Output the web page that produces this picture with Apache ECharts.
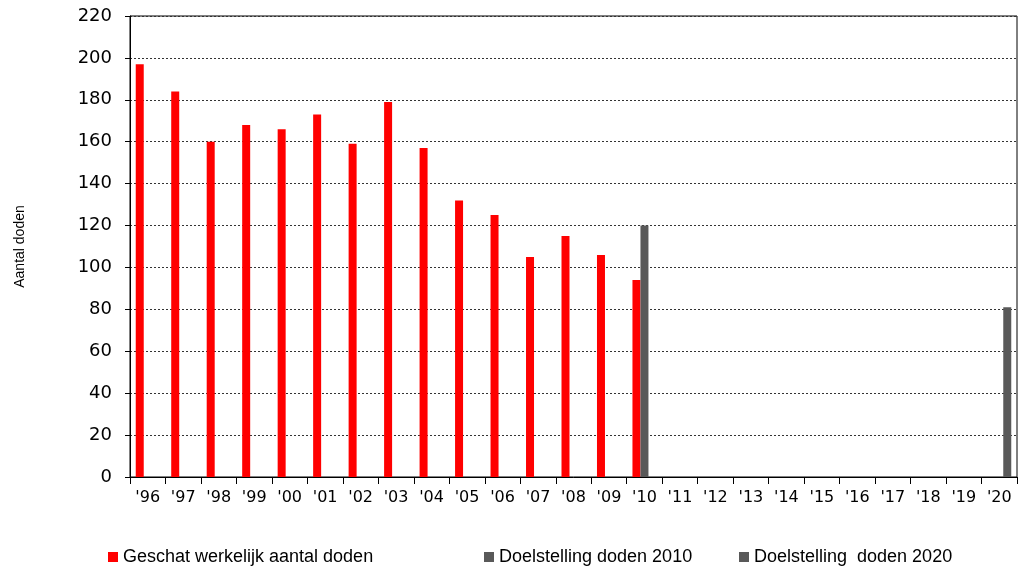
<!DOCTYPE html>
<html>
<head>
<meta charset="utf-8">
<script src="https://cdn.jsdelivr.net/npm/echarts@6/dist/echarts.min.js"></script>
<style>html,body{margin:0;padding:0;background:#fff}#c{width:1026px;height:569px}</style>
</head>
<body>
<div id="c"></div>
<script>
const categories = ["'96","'97","'98","'99","'00","'01","'02","'03","'04","'05","'06","'07","'08","'09","'10","'11","'12","'13","'14","'15","'16","'17","'18","'19","'20"];
const actual = [197,184,160,168,166,173,159,179,157,132,125,105,115,106,94,null,null,null,null,null,null,null,null,null,null];
const target2010 = [null,null,null,null,null,null,null,null,null,null,null,null,null,null,120,null,null,null,null,null,null,null,null,null,null];
const target2020 = [null,null,null,null,null,null,null,null,null,null,null,null,null,null,null,null,null,null,null,null,null,null,null,null,81];
const seriesNames = ['Geschat werkelijk aantal doden','Doelstelling doden 2010','Doelstelling  doden 2020'];
const yTicks = {min:0, max:220, interval:20};

const chart = echarts.init(document.getElementById('c'));
const legendText = {fontFamily:'Liberation Sans, Arial', fontSize:18, color:'#000'};
const legendBase = {top:543,itemWidth:10,itemHeight:10,icon:'rect',textStyle:legendText,padding:5};
chart.setOption({
  animation:false,
  grid:{left:130,right:9,top:16,bottom:92,show:true,borderColor:'#000',borderWidth:1},
  legend:[
    Object.assign({data:[seriesNames[0]],left:103},legendBase),
    Object.assign({data:[seriesNames[1]],left:479},legendBase),
    Object.assign({data:[seriesNames[2]],left:734},legendBase)
  ],
  xAxis:{type:'category',data:categories,
    axisLine:{lineStyle:{color:'#000',width:1}},
    axisTick:{show:true,length:7,lineStyle:{color:'#000'}},
    axisLabel:{fontFamily:'DejaVu Sans',fontSize:16,color:'#000',margin:13,interval:0}
  },
  yAxis:{type:'value',min:yTicks.min,max:yTicks.max,interval:yTicks.interval,
    name:'Aantal doden',nameLocation:'middle',nameGap:103,nameRotate:90,
    nameTextStyle:{fontFamily:'Liberation Sans, Arial',fontSize:14,color:'#000'},
    axisLine:{show:true,lineStyle:{color:'#000',width:1}},
    axisTick:{show:true,length:5,lineStyle:{color:'#000'}},
    axisLabel:{fontFamily:'DejaVu Sans',fontSize:18,color:'#000',margin:18},
    splitLine:{lineStyle:{color:'#333',type:[2,2],width:1}}
  },
  series:[
    {name:seriesNames[0],type:'bar',data:actual,barWidth:8,barGap:'0%',itemStyle:{color:'#ff0000'}},
    {name:seriesNames[1],type:'bar',data:target2010,barWidth:8,barGap:'0%',itemStyle:{color:'#595959'}},
    {name:seriesNames[2],type:'bar',data:target2020,barWidth:8,barGap:'0%',itemStyle:{color:'#595959'}}
  ]
});
</script>
</body>
</html>
